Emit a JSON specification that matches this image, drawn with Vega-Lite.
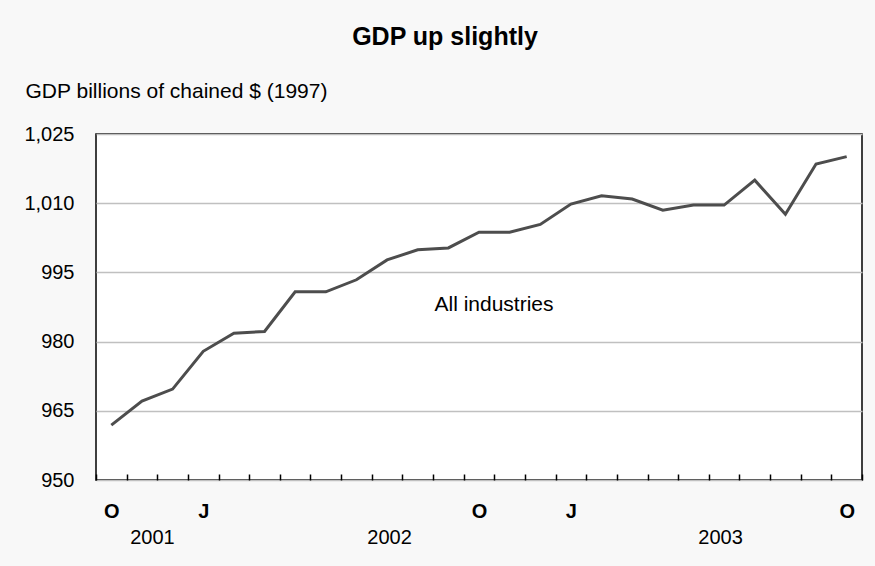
{
  "$schema": "https://vega.github.io/schema/vega-lite/v6.json",
  "autosize": "none",
  "width": 766,
  "height": 346,
  "padding": {"left": 96, "top": 134, "right": 13, "bottom": 86},
  "background": "#f8f8f8",
  "title": {
    "text": "GDP up slightly",
    "anchor": "middle",
    "frame": "group",
    "dx": -34,
    "offset": 30,
    "font": "Liberation Sans",
    "fontSize": 25,
    "fontWeight": "bold",
    "color": "#000000"
  },
  "config": {
    "font": "Liberation Sans",
    "view": {"fill": "#ffffff", "stroke": "#000000", "strokeWidth": 1.5}
  },
  "data": {
    "values": [
      {"month": "2001-10", "gdp": 961.9},
      {"month": "2001-11", "gdp": 967.1},
      {"month": "2001-12", "gdp": 969.7},
      {"month": "2002-01", "gdp": 977.9},
      {"month": "2002-02", "gdp": 981.8},
      {"month": "2002-03", "gdp": 982.2},
      {"month": "2002-04", "gdp": 990.8},
      {"month": "2002-05", "gdp": 990.8},
      {"month": "2002-06", "gdp": 993.4},
      {"month": "2002-07", "gdp": 997.7},
      {"month": "2002-08", "gdp": 999.9},
      {"month": "2002-09", "gdp": 1000.3},
      {"month": "2002-10", "gdp": 1003.7},
      {"month": "2002-11", "gdp": 1003.7},
      {"month": "2002-12", "gdp": 1005.4},
      {"month": "2003-01", "gdp": 1009.8},
      {"month": "2003-02", "gdp": 1011.6},
      {"month": "2003-03", "gdp": 1010.9},
      {"month": "2003-04", "gdp": 1008.5},
      {"month": "2003-05", "gdp": 1009.6},
      {"month": "2003-06", "gdp": 1009.6},
      {"month": "2003-07", "gdp": 1015.0},
      {"month": "2003-08", "gdp": 1007.6},
      {"month": "2003-09", "gdp": 1018.5},
      {"month": "2003-10", "gdp": 1020.1}
    ]
  },
  "encoding": {
    "x": {
      "field": "month",
      "type": "ordinal",
      "sort": null,
      "scale": {"type": "band", "paddingInner": 0, "paddingOuter": 0},
      "axis": {
        "title": null,
        "domain": false,
        "grid": false,
        "tickBand": "extent",
        "tickSize": -6,
        "tickColor": "#000000",
        "tickWidth": 1.5,
        "labelAngle": 0,
        "labelAlign": "center",
        "labelBaseline": "top",
        "labelPadding": 27,
        "labelFontSize": 20,
        "labelColor": "#000000",
        "labelLineHeight": 26.5,
        "labelOverlap": false,
        "labelFontWeight": {"condition": {"test": "indexof(['2001-11','2002-07','2003-06'], datum.value) >= 0", "value": "normal"}, "value": "bold"},
        "labelOffset": {"condition": [{"test": "datum.value == '2001-11'", "value": 10}, {"test": "datum.value == '2002-07'", "value": 2}, {"test": "datum.value == '2003-06'", "value": -4}], "value": 0},
        "labelExpr": "datum.value == '2001-10' || datum.value == '2002-10' || datum.value == '2003-10' ? 'O' : (datum.value == '2002-01' || datum.value == '2003-01') ? 'J' : datum.value == '2001-11' ? ['', '2001'] : datum.value == '2002-07' ? ['', '2002'] : datum.value == '2003-06' ? ['', '2003'] : ''"
      }
    },
    "y": {
      "field": "gdp",
      "type": "quantitative",
      "scale": {"domain": [950, 1025], "nice": false, "zero": false},
      "axis": {
        "title": "GDP billions of chained $ (1997)",
        "titleAngle": 0,
        "titleAlign": "left",
        "titleBaseline": "alphabetic",
        "titleX": -71,
        "titleY": -37,
        "titleFontSize": 21,
        "titleFontWeight": "normal",
        "titleColor": "#000000",
        "values": [950, 965, 980, 995, 1010, 1025],
        "format": ",d",
        "domain": false,
        "ticks": false,
        "labelPadding": 22,
        "labelFontSize": 20,
        "labelColor": "#000000",
        "gridColor": "#c0c0c0",
        "gridWidth": 1.5
      }
    }
  },
  "layer": [
    {
      "mark": {"type": "line", "color": "#4d4d4d", "strokeWidth": 3, "strokeJoin": "miter"}
    },
    {
      "data": {"values": [{"month": "2002-10", "gdp": 988, "label": "All industries"}]},
      "mark": {"type": "text", "fontSize": 21, "color": "#000000", "align": "center", "baseline": "middle", "dx": 15},
      "encoding": {"text": {"field": "label"}}
    }
  ]
}
